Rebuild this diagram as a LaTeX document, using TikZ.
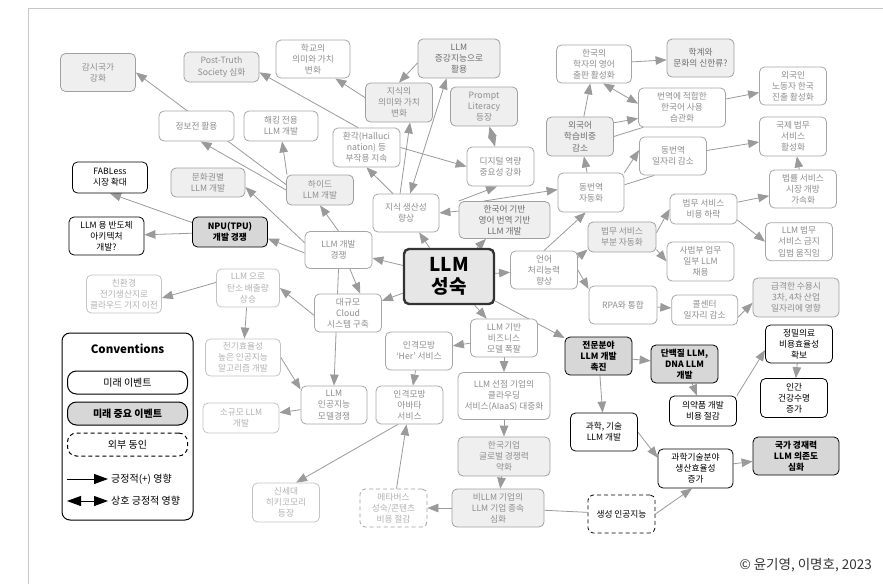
\documentclass[tikz,border=0pt]{standalone}
\usepackage{fontspec}
\setmainfont{Noto Sans CJK KR}
\usetikzlibrary{arrows.meta,calc}
\pgfdeclarelayer{bglayer}
\pgfsetlayers{bglayer,main}
\definecolor{ag}{HTML}{9A9A9A}
\definecolor{bw}{HTML}{A6A6A6}
\definecolor{tw}{HTML}{8E8E8E}
\definecolor{fillg}{HTML}{EFEFEF}
\definecolor{bgb}{HTML}{A0A0A0}
\definecolor{tgd}{HTML}{6E6E6E}
\definecolor{vfb}{HTML}{C4C4C4}
\definecolor{vft}{HTML}{B2B2B2}
\definecolor{kg}{HTML}{D7D7D7}
\definecolor{llmfill}{HTML}{E6E6E6}
\definecolor{llmb}{HTML}{333333}
\definecolor{framec}{HTML}{C8C8C8}
\newcommand\dgfs{\fontsize{8.7}{11.2}\selectfont}
\tikzset{
  base/.style={rectangle, rounded corners=5pt, align=center, inner xsep=2pt, inner ysep=1pt, font=\dgfs, line width=0.8pt},
  sz/.style 2 args={minimum width=#1pt, minimum height=#2pt},
  fw/.style={base, draw=bw, fill=white, text=tw},
  fg/.style={base, draw=bgb, fill=fillg, text=tw},
  fgd/.style={base, draw=bgb, fill=fillg, text=tgd},
  vf/.style={base, draw=vfb, fill=white, text=vft},
  bk/.style={base, draw=black, fill=white, text=black},
  bkg/.style={base, draw=black, fill=kg, text=black, font=\dgfs\bfseries},
  ext/.style={base, draw=black, fill=white, text=black, dash pattern=on 4pt off 3pt},
  extg/.style={base, draw=bgb, fill=white, text=vft, dash pattern=on 4pt off 3pt},
  arr/.style={draw=ag, line width=0.8pt, -{Triangle[length=11pt,width=8.5pt]}},
  dbl/.style={draw=ag, line width=0.8pt, {Triangle[length=11pt,width=8.5pt]}-{Triangle[length=11pt,width=8.5pt]}},
  ln/.style={draw=ag, line width=0.8pt},
  legitem/.style={draw=black, line width=1pt, rounded corners=9pt, minimum width=120pt, minimum height=23pt, font=\fontsize{10}{12}\selectfont, text=black},
  larr/.style={draw=black, line width=1pt, -{Triangle[length=14pt,width=10pt]}},
  ldbl/.style={draw=black, line width=1pt, {Triangle[length=14pt,width=10pt]}-{Triangle[length=14pt,width=10pt]}},
}
\begin{document}
\begin{tikzpicture}[x=1pt,y=-1pt]
\useasboundingbox (0,0) rectangle (883,584);
\draw[framec, line width=0.6pt] (28,584) -- (28,8) -- (883,8);

% nodes
\node[fg, sz={75}{38}] (gamsi) at (98,72.5) {감시국가\\강화};
\node[fg, sz={75}{30}] (post) at (221.5,67) {Post-Truth\\Society 심화};
\node[fw, sz={74}{38}] (school) at (313,59) {학교의\\의미와 가치\\변화};
\node[fw, sz={75}{30}] (jeongbo) at (196.5,126) {정보전 활용};
\node[fw, sz={74}{30}] (haeking) at (281,126) {해킹 전용\\LLM 개발};
\node[bk, sz={75}{31}] (fab) at (110,177.5) {FABLess\\시장 확대};
\node[fg, sz={74}{29}] (munhwa) at (208,182.5) {문화권별\\LLM 개발};
\node[fg, sz={67}{30}] (haid) at (320,190) {하이드\\LLM 개발};
\node[fgd, sz={82}{39}] (jeung) at (459,58.5) {LLM\\증강지능으로\\활용};
\node[fg, sz={67}{39}] (uimi) at (399,102.5) {지식의\\의미와 가치\\변화};
\node[fg, sz={67}{39}] (prompt) at (484,106.5) {Prompt\\Literacy\\등장};
\node[fw, sz={75}{38}] (hakja) at (594,64) {한국의\\학자의 영어\\출판 활성화};
\node[fw, sz={67}{39}] (hwan) at (366.5,147.5) {환각(Halluci\\nation) 등\\부작용 지속};
\node[fw, sz={67}{39}] (digital) at (500.5,166.5) {디지털 역량\\중요성 강화};
\node[fgd, sz={67}{39}] (foreign) at (580,136.5) {외국어\\학습비중\\감소};
\node[fw, sz={66}{39}] (dongbeon) at (591,192.5) {동번역\\자동화};
\node[fgd, sz={67}{38}] (hallyu) at (700.5,58) {학계와\\문화의 신한류?};
\node[fw, sz={87}{39}] (bunyeok) at (682,107.5) {번역에 적합한\\한국어 사용\\습관화};
\node[fw, sz={67}{38}] (worker) at (793,86) {외국인\\노동자 한국\\진출 활성화};
\node[fw, sz={67}{38}] (ilja) at (673,156) {동번역\\일자리 감소};
\node[fw, sz={67}{39}] (intl) at (793,136.5) {국제 법무\\서비스\\활성화};
\node[fw, sz={67}{38}] (market) at (803,189) {법률 서비스\\시장 개방\\가속화};
\node[fw, sz={67}{30}] (beopbi) at (703.5,209) {법무 서비스\\비용 하락};
\node[fg, sz={68}{30}] (bubun) at (622,237) {법무 서비스\\부분 자동화};
\node[fw, sz={67}{39}] (sabeop) at (700.5,261.5) {사법부 업무\\일부 LLM\\채용};
\node[fw, sz={67}{38}] (geumji) at (799,241.7) {LLM 법무\\서비스 금지\\입법 움직임};
\node[fw, sz={68}{38}] (rpa) at (623,305) {RPA와 통합};
\node[fw, sz={66}{30}] (call) at (704.7,310) {콜센터\\일자리 감소};
\node[fg, sz={86}{39}] (geup) at (796,297.5) {급격한 수용시\\3차, 4차 산업\\일자리에 영향};
\node[bk, sz={67}{38}] (jeongmil) at (799,344) {정밀의료\\비용효율성\\확보};
\node[bkg, sz={67}{38}] (danbaek) at (684.5,364) {단백질 LLM,\\DNA LLM\\개발};
\node[bkg, sz={67}{38}] (jeonmun) at (598.5,356) {전문분야\\LLM 개발\\촉진};
\node[bk, sz={67}{39}] (ingan) at (794,398) {인간\\건강수명\\증가};
\node[bk, sz={67}{30}] (uiyak) at (703,411) {의약품 개발\\비용 절감};
\node[bk, sz={67}{38}] (gwahak) at (604,432) {과학, 기술\\LLM 개발};
\node[bk, sz={75}{39}] (saengsan) at (695.5,468.5) {과학기술분야\\생산효율성\\증가};
\node[bkg, sz={86}{38}] (gukga) at (796,456) {국가 경재력\\LLM 의존도\\심화};
\node[ext, sz={67}{38}] (saeng) at (621.5,514) {생성 인공지능};
\node[fw, sz={92}{47}] (seonjeom) at (504,396) {LLM 선점 기업의\\클라우딩\\서비스(AIaaS) 대중화};
\node[fg, sz={92}{39}] (hgiup) at (504,456.5) {한국기업\\글로벌 경쟁력\\약화};
\node[fg, sz={92}{38}] (bi) at (498,508) {비LLM 기업의\\LLM 기업 종속\\심화};
\node[extg, sz={67}{38}] (meta) at (393.5,508) {메타버스\\성숙/콘텐츠\\비용 절감};
\node[fw, sz={67}{38}] (abata) at (409.5,405) {인격모방\\아바타\\서비스};
\node[fw, sz={66}{38}] (model) at (334,405) {LLM\\인공지능\\모델경쟁};
\node[fw, sz={67}{38}] (cloud) at (348,313) {대규모\\Cloud\\시스템 구축};
\node[fw, sz={67}{38}] (her) at (419,351) {인격모방\\‘Her’ 서비스};
\node[fw, sz={67}{38}] (biz) at (504,338) {LLM 기반\\비즈니스\\모델 폭팔};
\node[vf, sz={76}{30}] (sogyumo) at (241,418) {소규모 LLM\\개발};
\node[vf, sz={75}{37}] (jeongi) at (243,357.5) {전기효율성\\높은 인공지능\\알고리즘 개발};
\node[vf, sz={63}{38}] (tanso) at (248,288) {LLM 으로\\탄소 배출량\\상승};
\node[vf, sz={75}{38}] (chin) at (124,294) {친환경\\전기생산지로\\클라우드 기지 이전};
\node[bkg, sz={75}{30}] (npu) at (230,232) {NPU(TPU)\\개발 경쟁};
\node[bk, sz={75}{38}] (bandoche) at (106.5,236) {LLM 용 반도체\\아키텍처\\개발?};
\node[fw, sz={67}{37}] (gaebal) at (338.5,250) {LLM 개발\\경쟁};
\node[fw, sz={66}{38}] (jisik) at (406,213) {지식 생산성\\향상};
\node[fgd, sz={91}{37}] (hanguk) at (504.5,220) {한국어 기반\\영어 번역 기반\\LLM 개발};
\node[draw=llmb, fill=llmfill, line width=2.4pt, rounded corners=5pt, minimum width=90pt, minimum height=55pt, align=center, font=\bfseries\fontsize{19}{22}\selectfont, text=black] (llm) at (449,276.5) {LLM\\성숙};
\node[fw, sz={67}{38}] (eoneo) at (544,270) {언어\\처리능력\\향상};
\node[vf, sz={67}{39}] (hikiko) at (286,502.5) {신세대\\히키코모리\\등장};

% legend
\node[draw=black, line width=1pt, rounded corners=8pt, minimum width=131pt, minimum height=187pt] (legend) at (127.5,426.5) {};
\node[font=\bfseries\fontsize{11.5}{13}\selectfont] (conv) at (127.5,349) {Conventions};
\node[legitem, fill=white] (lg1) at (127.5,382.5) {미래 이벤트};
\node[legitem, fill=kg, font=\fontsize{10}{12}\selectfont\bfseries] (lg2) at (127.5,413.5) {미래 중요 이벤트};
\node[legitem, fill=white, dash pattern=on 4pt off 3pt] (lg3) at (127.5,444.5) {외부 동인};
\coordinate (la1) at (67,479);
\coordinate (lb1) at (108,479);
\draw[larr] (la1) -- (lb1);
\node[anchor=west, font=\fontsize{10}{12}\selectfont, inner sep=1pt] (lt1) at (110,479) {긍정적(+) 영향};
\coordinate (la2) at (67,501);
\coordinate (lb2) at (108,501);
\draw[ldbl] (la2) -- (lb2);
\node[anchor=west, font=\fontsize{10}{12}\selectfont, inner sep=1pt] (lt2) at (110,501) {상호 긍정적 영향};

\node[anchor=east, font=\fontsize{13.5}{15}\selectfont, text=llmb, inner sep=0pt] (copy) at (872,565) {© 윤기영, 이명호, 2023};

% connectors
\begin{pgfonlayer}{bglayer}
\draw[arr] (llm) -- (jisik);
\draw[arr] (llm) -- (hanguk);
\draw[arr] (llm) -- (gaebal);
\draw[arr] (llm) -- (cloud);
\draw[arr] (llm) -- (eoneo);
\draw[arr] (llm) -- (biz);
\draw[arr] (llm) -- (jeonmun);
\draw[arr] (jisik.124) -- (hwan.south);
\draw[arr] (jisik.107) -- (uimi.-61);
\draw[dbl] (jeung.-122) -- (jisik.78);
\draw[arr] (jeung.186) -- (uimi.north);
\draw[arr] (uimi.172) -- (school.-41);
\draw[arr] (hwan.113) -- (post.-8);
\draw[arr] (hwan.east) -- (digital.west);
\draw[dbl] (prompt) -- (digital);
\draw[arr] (hanguk.169) -- (jisik.east);
\draw[arr] (hanguk.north west) -- (digital.-100);
\draw[arr] (hanguk.138) -- (dongbeon.175);
\draw[arr] (dongbeon) -- (foreign);
\draw[arr] (dongbeon.north east) -- (ilja.170);
\draw[ln] (dongbeon.13) -- (ilja.-134);
\draw[arr] (foreign) -- (hakja);
\draw[dbl] (hakja.-65) -- (bunyeok.175);
\draw[arr] (hakja) -- (hallyu);
\draw[arr] (foreign.22) -- (bunyeok.194);
\draw[ln] (foreign.east) -- (bunyeok.207);
\draw[arr] (bunyeok) -- (worker);
\draw[arr] (ilja) -- (intl);
\draw[arr] (market) -- (intl);
\draw[arr] (beopbi) -- (market);
\draw[arr] (beopbi.-18) -- (geumji.west);
\draw[arr] (bubun.7) -- (beopbi.west);
\draw[arr] (bubun.-20) -- (sabeop.west);
\draw[arr] (eoneo.20) -- (bubun.200);
\draw[arr] (eoneo.east) -- (rpa.155);
\draw[arr] (eoneo.north) -- (dongbeon.-105);
\draw[arr] (rpa) -- (call);
\draw[arr] (call.-12) -- (geup.187);
\draw[arr] (jeonmun) -- (danbaek);
\draw[arr] (danbaek) -- (uiyak);
\draw[arr] (uiyak.north east) -- (jeongmil.190);
\draw[arr] (jeongmil) -- (ingan);
\draw[arr] (jeonmun) -- (gwahak);
\draw[arr] (gwahak.east) -- (saengsan.164);
\draw[arr] (saeng.east) -- (saengsan.-100);
\draw[arr] (saengsan) -- (gukga);
\draw[ln] (bi) -- (saeng);
\draw[arr] (bi) -- (meta);
\draw[arr] (meta) -- (abata);
\draw[arr] (hgiup) -- (bi);
\draw[arr] (seonjeom) -- (hgiup);
\draw[arr] (biz) -- (seonjeom);
\draw[arr] (biz) -- (her);
\draw[arr] (her) -- (abata);
\draw[arr] (abata.-121) -- (hikiko.63);
\draw[arr] (gaebal.south) -- (model.north);
\draw[arr] (gaebal.-59) -- (cloud.58);
\draw[arr] (cloud.184) -- (tanso.east);
\draw[arr] (gaebal.north) -- (haid.south);
\draw[arr] (gaebal.185) -- (npu.-10);
\draw[arr] (gaebal.168) -- (munhwa.-7);
\draw[arr] (haid.155) -- (haeking.-86);
\draw[arr] (haid.west) -- (jeongbo.-75);
\draw[arr] (haid.171) -- (gamsi.east);
\draw[arr] (npu.166) -- (fab.south);
\draw[arr] (npu) -- (bandoche);
\draw[arr] (tanso.170) -- (chin.-6);
\draw[arr] (tanso) -- (jeongi);
\draw[arr] (jeongi.east) -- (model.155);
\draw[arr] (model) -- (sogyumo);
\end{pgfonlayer}
\end{tikzpicture}
\end{document}
